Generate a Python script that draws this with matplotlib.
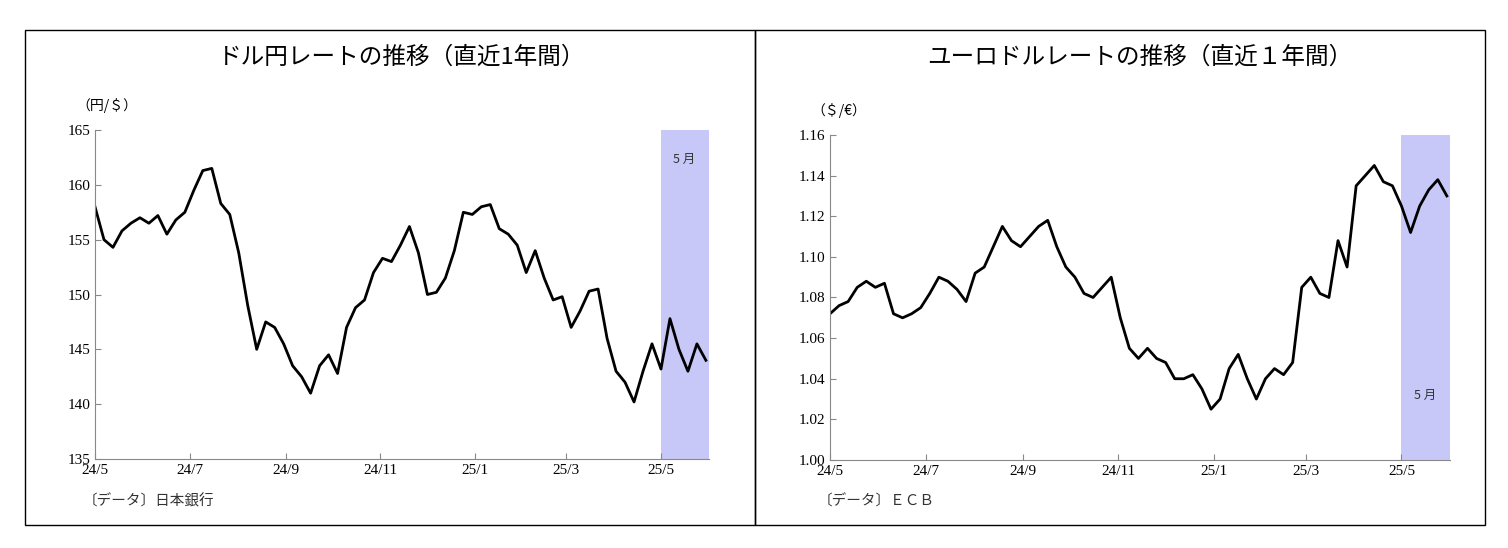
import numpy as np
import pandas as pd
import matplotlib.pyplot as plt
from matplotlib.patches import Rectangle

plt.rcParams['font.family'] = ['Noto Sans CJK JP']

usdjpy = [158, 155, 154.3, 155.8, 156.5, 157, 156.5, 157.2, 155.5, 156.8, 157.5,
          159.5, 161.3, 161.5, 158.3, 157.3, 153.8, 149, 145, 147.5, 147,
          145.5, 143.5, 142.5, 141, 143.5, 144.5, 142.8, 147, 148.8, 149.5,
          152, 153.3, 153, 154.5, 156.2, 153.8, 150, 150.2, 151.5, 154,
          157.5, 157.3, 158, 158.2, 156, 155.5, 154.5, 152, 154, 151.5,
          149.5, 149.8, 147, 148.5, 150.3, 150.5, 146, 143, 142, 140.2,
          143, 145.5, 143.2, 147.8, 145, 143, 145.5, 144]
eurusd = [1.072, 1.076, 1.078, 1.085, 1.088, 1.085, 1.087, 1.072, 1.070, 1.072,
          1.075, 1.082, 1.090, 1.088, 1.084, 1.078, 1.092, 1.095, 1.105, 1.115,
          1.108, 1.105, 1.110, 1.115, 1.118, 1.105, 1.095, 1.090, 1.082, 1.080,
          1.085, 1.090, 1.070, 1.055, 1.050, 1.055, 1.050, 1.048, 1.040, 1.040,
          1.042, 1.035, 1.025, 1.030, 1.045, 1.052, 1.040, 1.030, 1.040, 1.045,
          1.042, 1.048, 1.085, 1.090, 1.082, 1.080, 1.108, 1.095, 1.135, 1.140,
          1.145, 1.137, 1.135, 1.125, 1.112, 1.125, 1.133, 1.138, 1.130]
dates = pd.date_range('2024-05-01', '2025-05-30', periods=len(usdjpy))
tick_dates = pd.to_datetime(['2024-05-01', '2024-07-01', '2024-09-01', '2024-11-01',
                             '2025-01-01', '2025-03-01', '2025-05-01'])
tick_labels = ['24/5', '24/7', '24/9', '24/11', '25/1', '25/3', '25/5']

W, H = 1508, 548
fig = plt.figure(figsize=(W / 100, H / 100), dpi=100)
fig.patches.append(Rectangle((25 / W, 1 - 525 / H), 730 / W, 495 / H, transform=fig.transFigure,
                             fill=False, lw=1, ec='black'))
fig.patches.append(Rectangle((755 / W, 1 - 525 / H), 730 / W, 495 / H, transform=fig.transFigure,
                             fill=False, lw=1, ec='black'))


def panel(x0, x1, y0, y1, vals, ylim, yticks, fmt, title, unit, src, band_y):
    ax = fig.add_axes([x0 / W, 1 - y1 / H, (x1 - x0) / W, (y1 - y0) / H])
    ax.axvspan(pd.Timestamp('2025-05-01'), pd.Timestamp('2025-06-01'), color='#c8c8f8', lw=0)
    ax.plot(dates, vals, color='black', lw=2)
    ax.set_xlim(pd.Timestamp('2024-05-01'), pd.Timestamp('2025-06-01'))
    ax.set_ylim(*ylim)
    ax.set_yticks(yticks)
    ax.set_yticklabels([fmt.format(v) for v in yticks], fontfamily='Liberation Serif', fontsize=11)
    ax.set_xticks(tick_dates)
    ax.set_xticklabels(tick_labels, fontfamily='Liberation Serif', fontsize=11)
    for s in ['top', 'right']:
        ax.spines[s].set_visible(False)
    ax.spines['left'].set_color('#888888')
    ax.spines['bottom'].set_color('#888888')
    ax.tick_params(direction='in', length=4, colors='#888888', labelcolor='black')
    ax.text(pd.Timestamp('2025-05-16'), band_y, '5 月', ha='center', fontsize=9, color='#333333')
    ax.text(-0.03, 1.06, unit, transform=ax.transAxes, fontsize=10)
    ax.text(-0.02, -0.14, src, transform=ax.transAxes, fontsize=10.5, color='#333333')
    fig.text((x0 + x1) / 2 / W - 0.0, 1 - 57 / H, title, ha='center', va='center', fontsize=17)
    return ax


panel(95, 709, 130, 459, usdjpy, (135, 165), [135, 140, 145, 150, 155, 160, 165], '{:.0f}',
      'ドル円レートの推移（直近1年間）', '（円/＄）', '〔データ〕日本銀行', 162)
panel(830, 1450, 135, 460, eurusd, (1.0, 1.16), [1.00, 1.02, 1.04, 1.06, 1.08, 1.10, 1.12, 1.14, 1.16],
      '{:.2f}', 'ユーロドルレートの推移（直近１年間）', '（＄/€）', '〔データ〕ＥＣＢ', 1.03)

fig.savefig('out.png', dpi=100)
